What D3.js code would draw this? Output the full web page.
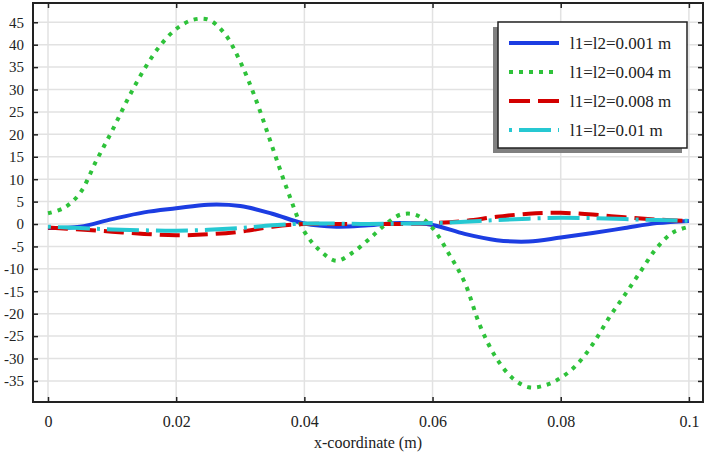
<!DOCTYPE html>
<html>
<head>
<meta charset="utf-8">
<script src="https://cdn.jsdelivr.net/npm/d3@7"></script>
<style>
  body { margin: 0; background: #fff; }
  svg { display: block; font-family: "Liberation Serif", "Times New Roman", serif; }
</style>
</head>
<body>
<div id="chart-area"></div>
<script>
// x positions (m)
const xFine = d3.range(0, 41).map(i => +(i * 0.0025).toFixed(4));
const xCoarse = d3.range(0, 21).map(i => +(i * 0.005).toFixed(3));

// l1=l2=0.001 m (on xCoarse)
const s001 = [-0.9, -0.6, 1.1, 2.6, 3.5, 4.3, 4.0, 2.3, 0.1, -0.6, -0.3,
  0.2, -0.2, -2.2, -3.6, -3.9, -3.0, -2.0, -0.9, 0.2, 0.7];
// l1=l2=0.004 m (on xFine)
const s004 = [2.4, 3.6, 6.9, 14, 20.8, 28, 34.5, 39.8, 43.5, 45.5, 45.6,
  42.6, 36.2, 27.5, 17.2, 7, -1.7, -6, -8.2, -6.4, -3.5,
  -0.3, 2.1, 2, -0.9, -6.5, -13, -23, -30, -34.4, -36.4,
  -36, -34.3, -31.4, -26.8, -21, -15.8, -10.5, -5.3, -1.9, -0.6];
// l1=l2=0.008 m (on xCoarse)
const s008 = [-0.8, -1.2, -1.7, -2.2, -2.5, -2.3, -1.7, -0.6, 0, 0, 0,
  0, 0.2, 0.7, 1.6, 2.3, 2.5, 2.1, 1.5, 1.0, 0.7];
// l1=l2=0.01 m (on xCoarse)
const s010 = [-0.6, -0.9, -1.2, -1.4, -1.5, -1.3, -0.9, -0.3, 0.1, 0.1, 0,
  0.1, 0.2, 0.5, 0.9, 1.2, 1.4, 1.3, 1.1, 0.9, 0.7];

const seriesNames = ["l1=l2=0.001 m", "l1=l2=0.004 m", "l1=l2=0.008 m", "l1=l2=0.01 m"];
const xTicks = [0, 0.02, 0.04, 0.06, 0.08, 0.1];
const yTicks = d3.range(-35, 50, 5);

const series = [
  {name: seriesNames[0], xs: xCoarse, ys: s001, color: "#1c3de2", dash: null},
  {name: seriesNames[1], xs: xFine, ys: s004, color: "#2ec23a", dash: "4 6"},
  {name: seriesNames[2], xs: xCoarse, ys: s008, color: "#d30000", dash: "20 8"},
  {name: seriesNames[3], xs: xCoarse, ys: s010, color: "#26c8d2", dash: "3 7 32 7"}
];

const W = 708, H = 454;
const margin = {left: 33, right: 5, top: 3, bottom: 52};
const width = W - margin.left - margin.right;
const height = H - margin.top - margin.bottom;

const svg = d3.select("#chart-area").append("svg")
  .attr("width", W)
  .attr("height", H);

const g = svg.append("g")
  .attr("transform", `translate(${margin.left},${margin.top})`);

const x = d3.scaleLinear().domain([-0.00234, 0.1022]).range([0, width]);
const y = d3.scaleLinear().domain([-39.7, 49.3]).range([height, 0]);

// grid
g.append("g").selectAll("line").data(yTicks).join("line")
  .attr("x1", 0).attr("x2", width)
  .attr("y1", d => y(d)).attr("y2", d => y(d))
  .attr("stroke", "#e2e2e2").attr("stroke-width", 1.5);
g.append("g").selectAll("line").data(xTicks).join("line")
  .attr("y1", 0).attr("y2", height)
  .attr("x1", d => x(d)).attr("x2", d => x(d))
  .attr("stroke", "#e2e2e2").attr("stroke-width", 1.5);

// lines
const line = d3.line().curve(d3.curveCatmullRom.alpha(0.5));
series.forEach(s => {
  g.append("path")
    .attr("d", line(s.xs.map((v, i) => [x(v), y(s.ys[i])])))
    .attr("fill", "none")
    .attr("stroke", s.color)
    .attr("stroke-width", 4)
    .attr("stroke-dasharray", s.dash);
});

// axes
const fmtX = d => String(+d.toFixed(3));
const xAxis = g.append("g")
  .attr("transform", `translate(0,${height})`)
  .call(d3.axisBottom(x).tickValues(xTicks).tickSize(-5).tickSizeOuter(0)
    .tickPadding(14).tickFormat(fmtX));
const yAxis = g.append("g")
  .call(d3.axisLeft(y).tickValues(yTicks).tickSize(-5).tickSizeOuter(0)
    .tickPadding(9).tickFormat(d => String(d)));
const topAxis = g.append("g")
  .call(d3.axisTop(x).tickValues(xTicks).tickSize(-5).tickSizeOuter(0).tickFormat(""));
const rightAxis = g.append("g")
  .attr("transform", `translate(${width},0)`)
  .call(d3.axisRight(y).tickValues(yTicks).tickSize(-5).tickSizeOuter(0).tickFormat(""));

[xAxis, yAxis, topAxis, rightAxis].forEach(a => {
  a.attr("font-family", null);
  a.select(".domain").remove();
  a.selectAll(".tick line").attr("stroke", "#222").attr("stroke-width", 1.5);
  a.selectAll("text").attr("fill", "#222");
});
xAxis.attr("font-size", "16px");
yAxis.attr("font-size", "15px");

// frame
g.append("rect")
  .attr("width", width).attr("height", height)
  .attr("fill", "none").attr("stroke", "#222").attr("stroke-width", 2);

// x label
svg.append("text")
  .attr("x", 368).attr("y", 448)
  .attr("text-anchor", "middle")
  .attr("font-size", "16px")
  .attr("fill", "#222")
  .text("x-coordinate (m)");

// legend
const lg = svg.append("g");
lg.append("rect")
  .attr("x", 493).attr("y", 27).attr("width", 189).attr("height", 126)
  .attr("fill", "#808080");
lg.append("rect")
  .attr("x", 498).attr("y", 22).attr("width", 189).attr("height", 126)
  .attr("fill", "#fff").attr("stroke", "#222").attr("stroke-width", 1.5);

const rowY = [43, 72, 101, 130];
series.forEach((s, i) => {
  lg.append("line")
    .attr("x1", 509).attr("x2", 559)
    .attr("y1", rowY[i]).attr("y2", rowY[i])
    .attr("stroke", s.color).attr("stroke-width", 4)
    .attr("stroke-dasharray", i === 2 ? "21 8" : s.dash);
  lg.append("text")
    .attr("x", 570).attr("y", rowY[i] + 6)
    .attr("font-size", "17px")
    .attr("fill", "#222")
    .text(s.name);
});
</script>
</body>
</html>
